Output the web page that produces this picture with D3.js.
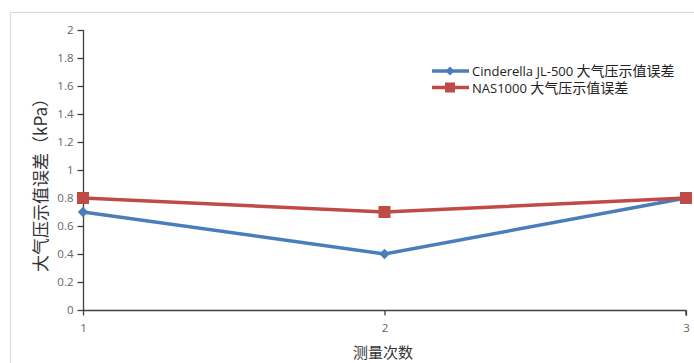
<!DOCTYPE html>
<html>
<head>
<meta charset="utf-8">
<script src="https://cdn.jsdelivr.net/npm/d3@7"></script>
<style>
  body { margin: 0; background: #fff; }
  text { font-family: "Open Sans", "Noto Sans CJK SC", sans-serif; }
</style>
</head>
<body>
<div id="chart"></div>
<script>
const WIDTH = 694;
const HEIGHT = 363;
const LEFT = 83;
const RIGHT = 686;
const TOP = 30;
const BOTTOM = 310;

const runs = [1, 2, 3];
const yTicks = [0, 0.2, 0.4, 0.6, 0.8, 1, 1.2, 1.4, 1.6, 1.8, 2];
const cinderella = [0.7, 0.4, 0.8];
const nas1000 = [0.8, 0.7, 0.8];
const seriesLatin = ['Cinderella JL-500 ', 'NAS1000 '];
const seriesCjk = ['大气压示值误差', '大气压示值误差'];
const seriesColors = ['#4a7ebb', '#be4b48'];

const svg = d3.select('#chart').append('svg')
  .attr('width', WIDTH)
  .attr('height', HEIGHT);

// outer frame
svg.append('path')
  .attr('d', `M10.5,${HEIGHT} V12.5 H${WIDTH}`)
  .attr('fill', 'none')
  .attr('stroke', '#d9d9d9');

const x = d3.scaleLinear().domain([1, 3]).range([LEFT, RIGHT]);
const y = d3.scaleLinear().domain([0, 2]).range([BOTTOM, TOP]);

const yAxis = svg.append('g')
  .attr('transform', `translate(${LEFT + 0.5},0)`)
  .call(d3.axisLeft(y).tickValues(yTicks).tickSize(6).tickPadding(4).tickFormat(d3.format('~g')));
const xAxis = svg.append('g')
  .attr('transform', `translate(0,${BOTTOM + 0.5})`)
  .call(d3.axisBottom(x).tickValues(runs).tickSize(5).tickPadding(8).tickFormat(d3.format('d')));

[yAxis, xAxis].forEach((g) => {
  g.select('.domain').attr('stroke', '#404040').attr('stroke-width', 1.3);
  g.selectAll('.tick line').attr('stroke', '#404040').attr('stroke-width', 1.3);
  g.selectAll('.tick text')
    .attr('fill', '#666')
    .style('font-size', '11.5px');
});
yAxis.select('.domain').attr('d', `M0,${BOTTOM}V${TOP}`);
xAxis.select('.domain').attr('d', `M${LEFT},0H${RIGHT}V5`);

// axis titles
svg.append('text')
  .attr('transform', 'translate(47,181) rotate(-90)')
  .attr('text-anchor', 'middle')
  .attr('fill', '#333')
  .style('font-size', '17px')
  .style('font-family', '"Noto Sans CJK SC", sans-serif')
  .text('大气压示值误差（kPa）');
svg.append('text')
  .attr('x', 383)
  .attr('y', 358)
  .attr('text-anchor', 'middle')
  .attr('fill', '#333')
  .style('font-size', '15px')
  .style('font-family', '"Noto Sans CJK SC", sans-serif')
  .text('测量次数');

const line = d3.line()
  .x((d, i) => x(runs[i]))
  .y((d) => y(d));

const allSeries = [cinderella, nas1000];

allSeries.forEach((vals, si) => {
  const g = svg.append('g');
  g.append('path')
    .datum(vals)
    .attr('d', line)
    .attr('fill', 'none')
    .attr('stroke', seriesColors[si])
    .attr('stroke-width', 3.5);
  if (si === 0) {
    g.selectAll('path.m')
      .data(vals)
      .enter()
      .append('path')
      .attr('class', 'm')
      .attr('transform', (d, i) => `translate(${x(runs[i])},${y(d)})`)
      .attr('d', d3.symbol(d3.symbolDiamond2, 70)())
      .attr('fill', seriesColors[si]);
  } else {
    g.selectAll('rect')
      .data(vals)
      .enter()
      .append('rect')
      .attr('x', (d, i) => x(runs[i]) - 6)
      .attr('y', (d) => y(d) - 6)
      .attr('width', 12)
      .attr('height', 12)
      .attr('fill', seriesColors[si]);
  }
});

// legend
const legend = svg.append('g').attr('transform', 'translate(432,71)');
seriesLatin.forEach((name, i) => {
  const row = legend.append('g').attr('transform', `translate(0,${i * 16.5})`);
  row.append('line')
    .attr('x1', 0).attr('x2', 37)
    .attr('stroke', seriesColors[i])
    .attr('stroke-width', 3.5);
  if (i === 0) {
    row.append('path')
      .attr('transform', 'translate(18,0)')
      .attr('d', d3.symbol(d3.symbolDiamond2, 50)())
      .attr('fill', seriesColors[i]);
  } else {
    row.append('rect')
      .attr('x', 13).attr('y', -5)
      .attr('width', 10).attr('height', 10)
      .attr('fill', seriesColors[i]);
  }
  const t = row.append('text')
    .attr('x', 40)
    .attr('y', 5)
    .attr('fill', '#222');
  t.append('tspan').style('font-size', '13px').text(name);
  t.append('tspan')
    .style('font-size', '14px')
    .style('font-family', '"Noto Sans CJK SC", sans-serif')
    .text(seriesCjk[i]);
});
</script>
</body>
</html>
